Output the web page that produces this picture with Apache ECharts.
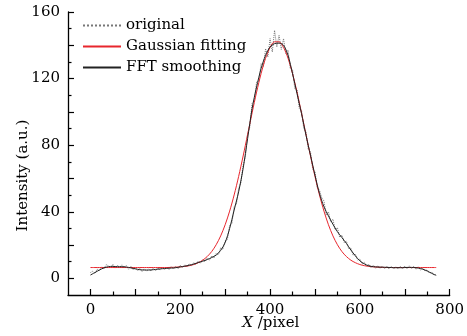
<!DOCTYPE html>
<html>
<head>
<meta charset="utf-8">
<script src="https://cdn.jsdelivr.net/npm/echarts@6/dist/echarts.min.js"></script>
<style>html,body{margin:0;padding:0;background:#fff;}#c{width:467px;height:336px;}</style>
</head>
<body>
<div id="c"></div>
<script>
// sample positions
const origStart = 0, origStep = 5;
const fitStart = 0, fitStep = 10;

// original (noisy) profile, X = 0..770 step 5
const original = [
  3.5, 4.2, 3, 5.5, 4.8, 6.9, 5.8, 8.2, 7.5, 6.3,
  8.4, 6.2, 7.9, 6.5, 8.1, 6.8, 7.6, 5.5, 7.3, 5.2,
  6.4, 4.6, 5.9, 4.1, 5.8, 4.3, 5.6, 4.4, 6.1, 4.6,
  6.3, 5, 6.6, 5.2, 6.9, 5.4, 7, 5.6, 7.2, 5.8,
  7.8, 6.4, 8.1, 7, 8.7, 7.6, 9.4, 8.3, 10.3, 9.1,
  11.2, 10, 12.2, 11, 13.4, 12.3, 15, 14.2, 18.3, 17.5,
  22.6, 23.4, 31.8, 33, 43, 44.5, 54, 57.5, 68, 73,
  87, 91, 105, 107, 118, 118.5, 129, 127, 138, 133,
  144, 136, 149, 139, 146, 137.5, 144, 135, 137, 126,
  125.5, 114, 113.5, 102, 101, 90, 88, 77.5, 76, 65.5,
  64, 54.5, 53, 48.5, 46.5, 38, 40, 34, 35.5, 29,
  30.5, 24.6, 26, 21.5, 22.4, 17.8, 18.2, 13.9, 14.6, 11,
  11.6, 8.6, 9.6, 7.1, 8.6, 6.4, 8, 6.1, 7.6, 5.9,
  7.4, 5.8, 7.3, 5.7, 7.2, 5.6, 7.1, 5.6, 7.2, 5.7,
  7.4, 5.8, 7.5, 5.8, 7.3, 5.5, 6.9, 5, 6.2, 4.4,
  5.1, 3.2, 3.8, 2, 2.5
];

// Gaussian fitting, X = 0..770 step 10
const gaussian = [
  6.5, 6.5, 6.5, 6.5, 6.5, 6.5, 6.5, 6.5, 6.5, 6.5,
  6.5, 6.5, 6.5, 6.5, 6.5, 6.5, 6.5, 6.5, 6.6, 6.7,
  6.9, 7.2, 7.6, 8.3, 9.4, 10.9, 13.1, 16.1, 20.2, 25.5,
  32.2, 40.4, 50.1, 61.2, 73.5, 86.4, 99.4, 111.9, 123, 132.2,
  138.7, 142.1, 142.1, 138.7, 132.2, 123, 111.9, 99.4, 86.4, 73.5,
  61.2, 50.1, 40.4, 32.2, 25.5, 20.2, 16.1, 13.1, 10.9, 9.4,
  8.3, 7.6, 7.2, 6.9, 6.7, 6.6, 6.5, 6.5, 6.5, 6.5,
  6.5, 6.5, 6.5, 6.5, 6.5, 6.5, 6.5, 6.5
];

// FFT smoothing, X = 0..770 step 10
const fft = [
  2, 3.5, 5, 6.3, 7, 7.2, 7, 7, 6.8, 6.3,
  5.7, 5.2, 5, 5, 5.2, 5.5, 5.8, 6, 6.2, 6.4,
  6.9, 7.3, 7.9, 8.6, 9.5, 10.3, 11.3, 12.5, 14, 16.8,
  21.5, 30, 41, 52, 66, 84, 102, 115, 126, 134,
  139, 141, 141.3, 140, 134, 123, 111, 99, 86, 74,
  62, 51, 43, 37.5, 32.5, 28, 24.5, 21, 17, 13.5,
  10.5, 8.7, 7.5, 7, 6.8, 6.7, 6.6, 6.5, 6.4, 6.4,
  6.5, 6.6, 6.5, 6.2, 5.5, 4.4, 3, 1.8
];

// ticks and labels
const xLabels = [0, 200, 400, 600, 800];
const xMajorTicks = [0, 100, 200, 300, 400, 500, 600, 700, 800];
const xMinorTicks = [50, 150, 250, 350, 450, 550, 650, 750];
const yLabels = [0, 40, 80, 120, 160];
const yMajorTicks = [0, 20, 40, 60, 80, 100, 120, 140, 160];
const yMinorTicks = [10, 30, 50, 70, 90, 110, 130, 150];

const names = ['original', 'Gaussian fitting', 'FFT smoothing'];

const pair = (arr, start, step) => arr.map((v, i) => [start + i * step, v]);

const FONT = 'DejaVu Serif';
const axisLineStyle = { color: '#000', width: 1.3 };

const chart = echarts.init(document.getElementById('c'), null, { renderer: 'canvas' });
chart.setOption({
  animation: false,
  backgroundColor: '#fff',
  textStyle: { fontFamily: FONT, color: '#000' },
  grid: { left: 68, right: 17, top: 12, bottom: 40 },
  legend: {
    orient: 'vertical', left: 77, top: 13,
    itemWidth: 38, itemHeight: 12, itemGap: 6,
    data: names,
    itemStyle: { opacity: 0 },
    textStyle: { fontFamily: FONT, fontSize: 15, color: '#000' }
  },
  xAxis: [
    {
      type: 'value', min: -50, max: 800, position: 'bottom',
      axisLine: { onZero: false, lineStyle: axisLineStyle },
      axisTick: { inside: true, length: 6, customValues: xMajorTicks, lineStyle: { color: '#000', width: 1.2 } },
      axisLabel: { customValues: xLabels, fontFamily: FONT, fontSize: 15, color: '#000', margin: 8 },
      splitLine: { show: false },
      name: '{i|X} /pixel', nameLocation: 'middle', nameGap: 21, nameMoveOverlap: false,
      nameTextStyle: {
        fontFamily: FONT, fontSize: 15, color: '#000', padding: [0, 0, 0, 24],
        rich: { i: { fontFamily: FONT, fontSize: 15, fontStyle: 'italic', color: '#000' } }
      }
    },
    {
      type: 'value', min: -50, max: 800, position: 'bottom',
      axisLine: { show: false, onZero: false },
      axisTick: { inside: true, length: 3.5, customValues: xMinorTicks, lineStyle: { color: '#000', width: 1.2 } },
      axisLabel: { show: false },
      splitLine: { show: false }
    }
  ],
  yAxis: [
    {
      type: 'value', min: -10, max: 160, position: 'left',
      axisLine: { show: true, onZero: false, lineStyle: axisLineStyle },
      axisTick: { show: true, inside: true, length: 6, customValues: yMajorTicks, lineStyle: { color: '#000', width: 1.2 } },
      axisLabel: { customValues: yLabels, fontFamily: FONT, fontSize: 15, color: '#000', margin: 8 },
      splitLine: { show: false },
      name: 'Intensity (a.u.)', nameLocation: 'middle', nameGap: 37, nameMoveOverlap: false,
      nameTextStyle: { fontFamily: FONT, fontSize: 15, color: '#000', padding: [0, 44, 0, 0] }
    },
    {
      type: 'value', min: -10, max: 160, position: 'left',
      axisLine: { show: false, onZero: false },
      axisTick: { show: true, inside: true, length: 3.5, customValues: yMinorTicks, lineStyle: { color: '#000', width: 1.2 } },
      axisLabel: { show: false },
      splitLine: { show: false }
    }
  ],
  series: [
    {
      name: names[0], type: 'line', symbol: 'none',
      data: pair(original, origStart, origStep),
      lineStyle: { color: '#777', width: 1, type: 'dotted' },
      itemStyle: { color: '#777' }, z: 1
    },
    {
      name: names[1], type: 'line', symbol: 'none', smooth: 0.3,
      data: pair(gaussian, fitStart, fitStep),
      lineStyle: { color: '#e8262d', width: 1 },
      itemStyle: { color: '#e8262d' }, z: 2
    },
    {
      name: names[2], type: 'line', symbol: 'none', smooth: 0.3,
      data: pair(fft, fitStart, fitStep),
      lineStyle: { color: '#222', width: 1 },
      itemStyle: { color: '#222' }, z: 3
    }
  ]
});
</script>
</body>
</html>
